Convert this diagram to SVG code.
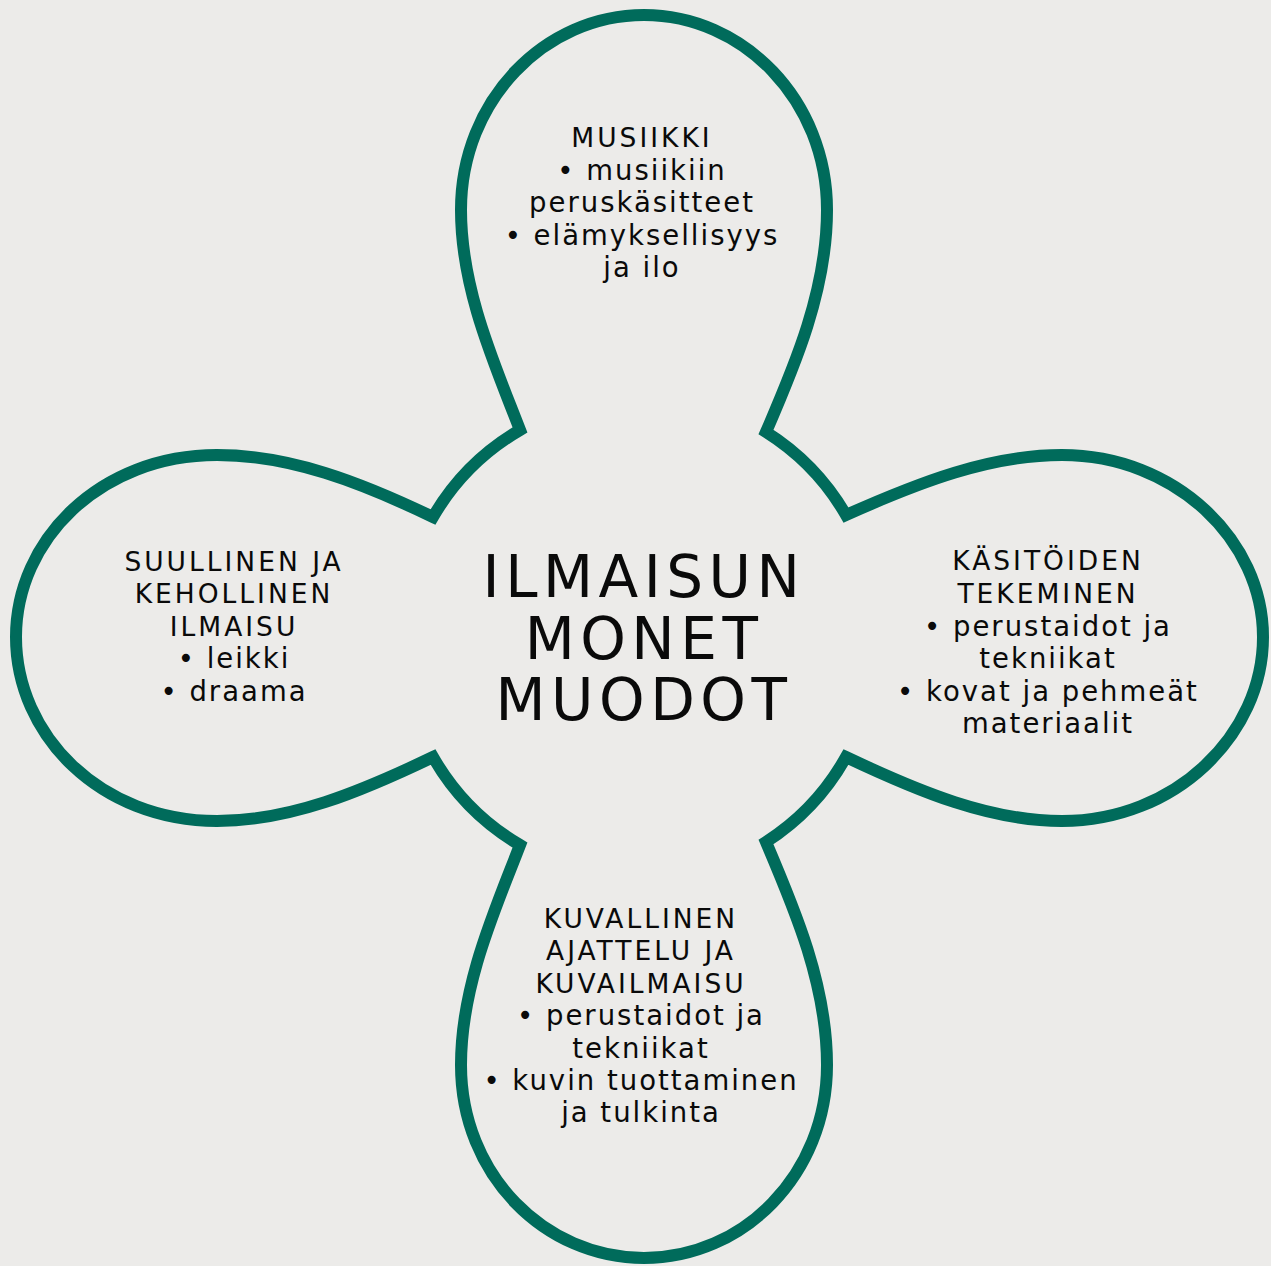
<svg xmlns="http://www.w3.org/2000/svg" width="1271" height="1266" viewBox="0 0 1271 1266">
<style>
.bg{fill:#ECEBE9}
.outline{fill:none;stroke:#006B5B;stroke-width:12;stroke-linejoin:miter;stroke-miterlimit:10}
text{font-family:"DejaVu Sans","Liberation Sans",sans-serif;fill:#0A0A0A;text-anchor:middle}
.h{font-size:26.5px;letter-spacing:3px}
.b{font-size:27.5px;letter-spacing:2px}
.c{font-size:58px;letter-spacing:5.5px}
</style>
<rect class="bg" x="0" y="0" width="1271" height="1266"/>
<g id="outline">
<path class="outline" d="M520,430 C495,365 461,290 461,210 C461,100 545,15 644,15 C743,15 827,100 827,210 C827,290 795,365 766,432 A240,240 0 0 1 846,515 C920,482 990,455 1062,455 C1175,455 1263,540 1263,637 C1263,735 1175,821 1062,821 C990,821 920,792 846,757 A240,240 0 0 1 766,842 C795,910 827,985 827,1065 C827,1175 743,1258 644,1258 C545,1258 461,1175 461,1065 C461,985 495,910 520,845 A240,240 0 0 1 433,757 C360,792 290,821 217,821 C100,821 16,735 16,637 C16,540 100,455 217,455 C290,455 360,482 433,517 A240,240 0 0 1 520,430 Z"/>
</g>
<g id="node-center">
<text class="c" x="644" y="597">ILMAISUN</text>
<text class="c" x="644" y="659">MONET</text>
<text class="c" x="644" y="720">MUODOT</text>
</g>
<g id="node-musiikki">
<text class="h" x="642" y="147">MUSIIKKI</text>
<text class="b" x="642" y="180">• musiikiin</text>
<text class="b" x="642" y="212">peruskäsitteet</text>
<text class="b" x="642" y="245">• elämyksellisyys</text>
<text class="b" x="642" y="277">ja ilo</text>
</g>
<g id="node-kasityot">
<text class="h" x="1048" y="570">KÄSITÖIDEN</text>
<text class="h" x="1048" y="603">TEKEMINEN</text>
<text class="b" x="1048" y="636">• perustaidot ja</text>
<text class="b" x="1048" y="668">tekniikat</text>
<text class="b" x="1048" y="701">• kovat ja pehmeät</text>
<text class="b" x="1048" y="733">materiaalit</text>
</g>
<g id="node-kuvallinen">
<text class="h" x="641" y="928">KUVALLINEN</text>
<text class="h" x="641" y="960">AJATTELU JA</text>
<text class="h" x="641" y="993">KUVAILMAISU</text>
<text class="b" x="641" y="1025">• perustaidot ja</text>
<text class="b" x="641" y="1058">tekniikat</text>
<text class="b" x="641" y="1090">• kuvin tuottaminen</text>
<text class="b" x="641" y="1122">ja tulkinta</text>
</g>
<g id="node-suullinen">
<text class="h" x="234" y="571">SUULLINEN JA</text>
<text class="h" x="234" y="603">KEHOLLINEN</text>
<text class="h" x="234" y="636">ILMAISU</text>
<text class="b" x="234" y="668">• leikki</text>
<text class="b" x="234" y="701">• draama</text>
</g>
</svg>
